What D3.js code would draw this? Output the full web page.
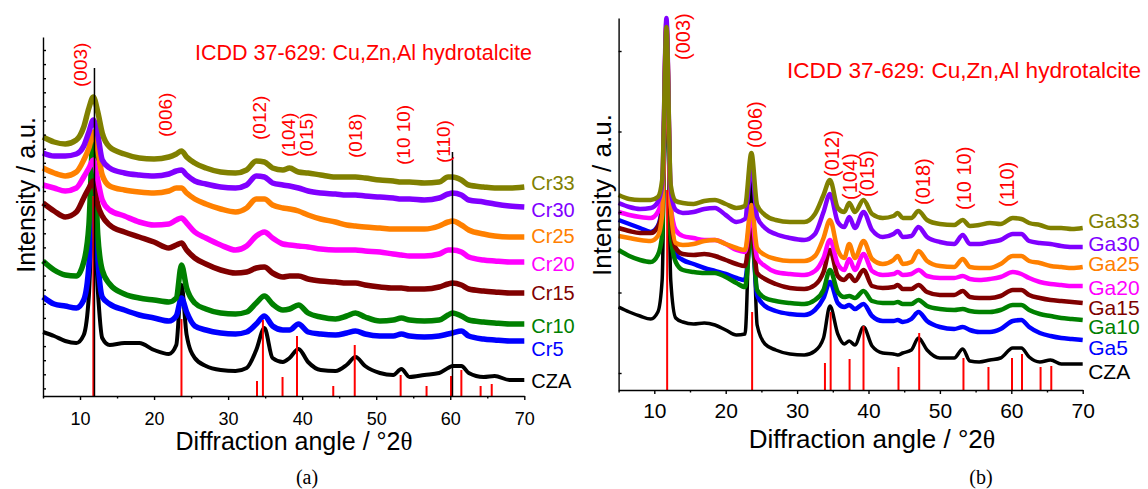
<!DOCTYPE html>
<html>
<head>
<meta charset="utf-8">
<script src="https://cdn.jsdelivr.net/npm/d3@7"></script>
<style>
    body { margin: 0; background: #fff; }
    svg text { font-family: "Liberation Sans", Arial, sans-serif; }
</style>
</head>
<body>
<div id="chart"></div>
<script>
// ---- panel (a): Cr series, angles in °2θ where the patterns were read
var anglesA = [5, 6.5, 8, 9.5, 10.5, 11.2, 11.8, 12.4, 13, 14, 16, 18, 20, 22, 23, 23.7,
    24.4, 25.5, 27, 29, 31, 32.5, 33.8, 34.9, 36, 37.4, 38.3, 39.5, 40.8, 42.5, 44.5, 46,
    47.2, 48.5, 50.5, 52.3, 53.4, 54.5, 56.5, 58.5, 59.7, 60.3, 61.5, 62.5, 64.5, 66, 68, 70];

var cr33 = [259,254,252,256,269,288,299,284,263,249,242,238,237,239,242,245,239,233,228,224,223,226,235,234,228,226,228,224,223,221,219,219,219,218,216,215,214,214,213,214,219,219,216,211,209,208,208,209];
var cr30 = [243,240,240,242,250,264,276,261,236,228,223,221,220,222,225,226,221,215,212,209,208,211,220,219,213,211,210,208,205,203,202,201,201,200,199,198,197,197,196,198,202,203,201,196,194,192,190,189];
var cr25 = [228,223,220,224,236,248,264,246,221,210,206,204,203,205,208,208,203,197,192,187,184,188,197,197,191,188,187,185,181,177,174,171,170,169,168,167,167,167,167,170,174,175,171,166,162,160,159,159];
var cr20 = [211,208,205,208,219,228,236,216,196,186,180,174,171,172,176,178,173,164,158,151,146,150,160,164,158,152,151,150,149,147,146,146,146,145,144,142,141,140,140,142,146,146,144,139,136,135,134,134];
var cr15 = [193,185,179,184,198,208,215,191,180,171,164,159,154,148,151,153,146,138,132,126,123,124,128,129,123,119,120,120,117,115,114,113,113,111,109,108,108,107,107,109,112,113,111,107,105,104,103,103];
var cr10 = [135,126,121,120,134,171,263,161,126,112,102,98,96,94,98,131,108,93,87,83,82,84,93,100,92,86,87,91,83,79,77,80,83,79,75,76,78,76,75,76,81,83,80,76,74,73,72,72];
var cr5 = [99,92,90,88,96,131,216,136,99,92,86,81,78,75,80,98,84,70,66,63,62,64,72,80,70,66,66,72,64,62,61,63,65,62,60,60,62,60,59,60,62,63,65,60,57,56,55,55];
var czaA = [64,60,55,53,61,101,196,106,58,51,53,53,46,42,51,111,61,38,30,26,25,28,46,68,38,34,38,47,34,26,25,31,39,30,23,21,27,19,21,23,28,30,30,23,19,20,16,16];

var namesA = ["CZA", "Cr5", "Cr10", "Cr15", "Cr20", "Cr25", "Cr30", "Cr33"];
var labelLevelsA = [15, 47, 70, 103, 132, 160, 186, 213];

// ---- panel (b): Ga series
var anglesB = [5, 6.5, 8, 9.5, 10.5, 11.1, 11.7, 12.3, 13, 14, 15.5, 17, 18.5, 20, 21.5, 22.7,
    23.6, 24.4, 25.5, 27, 29, 31, 32.5, 33.7, 34.6, 35.7, 36.6, 37.3, 38.1, 39.3, 40.5, 42,
    43.5, 44.1, 44.8, 46, 47, 48.2, 50, 52, 53.2, 54.2, 55.5, 57, 58.5, 60.2, 61.4, 62.5,
    64, 65.5, 67, 68.5, 70];

var ga33 = [195,191,190,190,193,210,363,205,189,187,186,189,190,186,182,184,237,185,175,170,168,168,176,195,210,182,178,187,178,190,176,172,174,177,172,172,179,170,166,165,170,164,165,167,166,172,171,167,165,162,162,161,162];
var ga30 = [187,183,181,182,188,205,372,200,180,177,178,181,182,175,168,171,225,173,162,156,152,150,156,178,196,168,163,173,162,178,160,153,156,159,153,154,163,153,148,146,155,146,146,148,150,156,156,149,147,146,144,143,143];
var ga25 = [154,152,150,149,154,175,365,185,147,145,146,149,150,146,142,140,185,142,135,131,129,129,134,152,170,140,132,146,132,149,131,126,130,134,126,128,139,129,124,123,131,123,122,122,126,134,134,129,127,124,123,122,123];
var ga20 = [178,175,173,172,178,195,368,185,160,154,152,150,150,146,140,138,175,132,124,118,116,115,119,132,150,126,120,131,120,136,119,115,116,118,115,116,120,114,112,112,114,111,110,111,113,118,116,112,108,106,105,104,104];
var ga15 = [162,159,157,157,163,180,360,175,142,136,135,136,134,130,126,124,165,117,111,106,102,101,105,118,140,114,110,115,109,120,104,102,103,105,101,101,105,98,95,95,99,93,92,92,94,100,100,95,92,90,89,88,87];
var ga10 = [140,134,130,128,135,155,355,155,128,120,118,117,117,113,107,103,160,100,92,89,87,86,90,100,120,98,93,94,92,99,89,87,87,88,86,86,90,84,81,80,81,79,78,78,80,85,85,80,76,74,72,71,70];
var ga5 = [170,166,162,158,164,185,350,165,136,130,126,122,119,116,112,110,160,95,84,79,76,75,80,92,108,87,83,85,81,86,74,69,69,70,68,71,78,69,63,61,63,60,58,58,61,69,70,63,57,54,52,51,50];
var czaB = [83,78,74,71,78,110,360,110,72,68,66,67,65,60,55,56,215,65,46,40,36,35,39,52,84,56,46,49,45,63,44,37,36,35,37,40,52,40,32,32,41,29,28,30,32,42,42,33,28,30,26,26,26];

var namesB = ["CZA", "Ga5", "Ga10", "Ga15", "Ga20", "Ga25", "Ga30", "Ga33"];
var labelLevelsB = [19, 43, 64, 83, 103, 127, 147, 170];

// ICDD 37-629 reference sticks
var stickAngles = [11.8, 23.7, 33.9, 34.7, 37.35, 39.3, 44.2, 47.1, 53.3, 56.8, 60.1, 61.5, 64.1, 65.6];
var stickA = [200, 77, 15, 76, 19, 60, 10, 51, 21, 10, 20, 26, 10, 12];
var stickB = [200, 78, 27, 78, 31, 64, 23, 57, 32, 23, 32, 36, 23, 24];

var hkl = ["(003)", "(006)", "(012)", "(104)", "(015)", "(018)", "(10 10)", "(110)"];
var hklAnglesA = [10.13, 21.6, 34.3, 38.1, 40.65, 47.27, 53.75, 59.15];
var hklLevelsA = [309, 259, 256, 239, 239, 238, 231, 233];
var hklAnglesB = [14.02, 24.1, 34.89, 37.41, 39.79, 47.63, 53.37, 59.4];
var hklLevelsB = [330, 242, 213, 190, 193, 185, 180, 183];

// thin black lines in panel (a)
var markAngles = [11.95, 60.3];
var markTops = [328, 244];

var colors = ["#000000", "#0000ff", "#008000", "#800000", "#ff00ff", "#ff8000", "#8000ff", "#808000"];
var xTicks = [10, 20, 30, 40, 50, 60, 70];
var xMinor = [5, 15, 25, 35, 45, 55, 65];

var svg = d3.select("#chart")
    .append("svg")
    .attr("width", 1148)
    .attr("height", 489);

function drawPanel(p) {
    var x = d3.scaleLinear().domain([5, 70]).range([p.left, p.right]);
    var y = d3.scaleLinear().domain([0, p.ymax]).range([p.bottom, p.top]);
    var g = svg.append("g");

    // patterns, bottom one first
    p.series.forEach(function (s, i) {
        g.append("path")
            .datum(s)
            .attr("fill", "none")
            .attr("stroke", colors[i])
            .attr("stroke-width", i == 0 ? p.czaWidth : p.lineWidth)
            .attr("stroke-linejoin", "round")
            .attr("d", d3.line()
                .x(function (d, j) { return x(p.angles[j]); })
                .y(function (d) { return y(d); })
                .curve(d3.curveMonotoneX));
        g.append("text")
            .attr("x", p.right + p.labelGap)
            .attr("y", y(p.labelLevels[i]))
            .attr("dominant-baseline", "central")
            .attr("fill", colors[i])
            .style("font-size", p.legendSize + "px")
            .text(p.names[i]);
    });

    // reference sticks
    g.selectAll(".stick")
        .data(stickAngles)
        .enter()
        .append("line")
        .attr("x1", function (d) { return x(d); })
        .attr("x2", function (d) { return x(d); })
        .attr("y1", y(0))
        .attr("y2", function (d, i) { return y(p.sticks[i]); })
        .attr("stroke", "#ff0000")
        .attr("stroke-width", 2);

    if (p.marks) {
        markAngles.forEach(function (a, i) {
            g.append("line")
                .attr("x1", x(a)).attr("x2", x(a))
                .attr("y1", y(0)).attr("y2", y(markTops[i]))
                .attr("stroke", "#000")
                .attr("stroke-width", 1.5);
        });
    }

    // hkl labels
    hkl.forEach(function (t, i) {
        g.append("text")
            .attr("transform", "translate(" + x(p.hklAngles[i]) + "," + y(p.hklLevels[i]) + ") rotate(-90)")
            .attr("dominant-baseline", "central")
            .attr("fill", "#ff0000")
            .style("font-size", p.hklSize + "px")
            .text(t);
    });

    // axes
    var xa = g.append("g")
        .attr("transform", "translate(0," + p.bottom + ")")
        .call(d3.axisBottom(x).tickValues(xTicks).tickSize(4).tickSizeOuter(0).tickPadding(p.tickPad));
    xa.selectAll("text")
        .style("font-family", "Liberation Sans, Arial, sans-serif")
        .style("font-size", p.tickSize + "px")
        .attr("fill", "#000");
    g.append("g")
        .attr("transform", "translate(0," + p.bottom + ")")
        .call(d3.axisBottom(x).tickValues(xMinor).tickSize(2.5).tickFormat(""))
        .select(".domain").remove();
    g.append("g")
        .attr("transform", "translate(" + p.left + ",0)")
        .call(d3.axisRight(y).tickValues(d3.range(p.yTick0, p.ymax, p.yTickStep)).tickSize(3).tickSizeOuter(0).tickFormat(""));
    g.selectAll(".domain, .tick line").attr("stroke", "#000").attr("stroke-width", 1.4);

    // titles
    g.append("text")
        .attr("x", p.titleX)
        .attr("y", p.titleY)
        .attr("fill", "#ff0000")
        .style("font-size", p.titleSize + "px")
        .text("ICDD 37-629: Cu,Zn,Al hydrotalcite");

    var xl = g.append("text")
        .attr("x", p.xLabelX)
        .attr("y", p.xLabelY)
        .attr("text-anchor", "middle")
        .style("font-size", p.axisSize + "px")
        .text("Diffraction angle / \u00b02");
    xl.append("tspan")
        .style("font-family", "Liberation Serif, Times New Roman, serif")
        .text("\u03b8");

    g.append("text")
        .attr("transform", "translate(" + p.yLabelX + ",195) rotate(-90)")
        .attr("text-anchor", "middle")
        .attr("dominant-baseline", "central")
        .style("font-size", p.axisSize + "px")
        .text("Intensity / a.u.");

    g.append("text")
        .attr("x", p.tagX)
        .attr("y", 484)
        .attr("text-anchor", "middle")
        .style("font-family", "Liberation Serif, Times New Roman, serif")
        .style("font-size", "20px")
        .text(p.tag);
}

drawPanel({
    left: 43, right: 524.3, bottom: 396, top: 37, ymax: 359,
    angles: anglesA,
    series: [czaA, cr5, cr10, cr15, cr20, cr25, cr30, cr33],
    lineWidth: 5.5, czaWidth: 4,
    names: namesA, labelLevels: labelLevelsA, labelGap: 7, legendSize: 20,
    sticks: stickA, marks: true,
    hklAngles: hklAnglesA, hklLevels: hklLevelsA, hklSize: 19,
    tickPad: 12, tickSize: 18, yTick0: 7.6, yTickStep: 14.1,
    titleX: 195, titleY: 60, titleSize: 21.5,
    xLabelX: 294, xLabelY: 450, yLabelX: 26, axisSize: 25,
    tagX: 307, tag: "(a)"
});

drawPanel({
    left: 618.6, right: 1082.7, bottom: 390, top: 18, ymax: 372,
    angles: anglesB,
    series: [czaB, ga5, ga10, ga15, ga20, ga25, ga30, ga33],
    lineWidth: 4.5, czaWidth: 3.5,
    names: namesB, labelLevels: labelLevelsB, labelGap: 5.5, legendSize: 21,
    sticks: stickB, marks: false,
    hklAngles: hklAnglesB, hklLevels: hklLevelsB, hklSize: 20,
    tickPad: 9, tickSize: 21, yTick0: 17, yTickStep: 80.5,
    titleX: 787, titleY: 78, titleSize: 22.6,
    xLabelX: 872, xLabelY: 448, yLabelX: 602, axisSize: 26,
    tagX: 981, tag: "(b)"
});
</script>
</body>
</html>
